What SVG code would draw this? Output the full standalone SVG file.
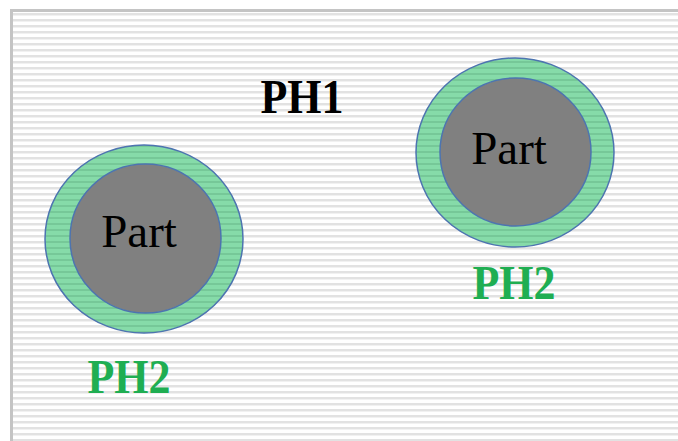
<svg xmlns="http://www.w3.org/2000/svg" width="678" height="441" viewBox="0 0 678 441">
  <defs>
    <pattern id="bgStripes" patternUnits="userSpaceOnUse" x="0" y="10" width="8" height="6">
      <rect width="8" height="6" fill="#ffffff"/>
      <rect y="3" width="8" height="2" fill="#e2e2e2"/>
      <rect y="5" width="8" height="1" fill="#f1f1f1"/>
    </pattern>
    <pattern id="ringStripes" patternUnits="userSpaceOnUse" x="0" y="10" width="8" height="6">
      <rect width="8" height="6" fill="#86dba9"/>
      <rect y="3" width="8" height="2" fill="#76c898"/>
    </pattern>
    <style>
      .ring { fill: url(#ringStripes); stroke: #4d74b0; stroke-width: 1.5; }
      .part { fill: #808080; stroke: #4d74b0; stroke-width: 1.5; }
      .partLabel { font-family: "Liberation Serif", "Times New Roman", serif; font-size: 47px; fill: #000000; text-anchor: middle; }
      .ph { font-family: "Liberation Serif", "Times New Roman", serif; font-size: 44px; font-weight: bold; text-anchor: middle; }
      .ph1 { fill: #000000; }
      .ph2 { fill: #1fae52; }
    </style>
  </defs>

  <g id="background">
    <rect x="0" y="0" width="678" height="441" fill="#ffffff"/>
    <rect x="10" y="9" width="668" height="432" fill="url(#bgStripes)"/>
    <rect x="10" y="9" width="668" height="3" fill="#c4c4c4"/>
    <rect x="10" y="9" width="3" height="432" fill="#c4c4c4"/>
  </g>

  <g id="ph1-label">
    <text class="ph ph1" transform="translate(302,113) scale(1,1.1)">PH1</text>
  </g>

  <g id="part-left">
    <ellipse class="ring" cx="144" cy="239" rx="99" ry="94"/>
    <ellipse class="part" cx="145.5" cy="238.5" rx="75.5" ry="74.5"/>
    <text class="partLabel" x="139" y="247">Part</text>
  </g>

  <g id="part-right">
    <ellipse class="ring" cx="515" cy="152.5" rx="99" ry="94.5"/>
    <ellipse class="part" cx="515.5" cy="152" rx="75.5" ry="74"/>
    <text class="partLabel" x="509" y="164">Part</text>
  </g>

  <g id="ph2-left">
    <text class="ph ph2" transform="translate(129,393) scale(1,1.08)">PH2</text>
  </g>

  <g id="ph2-right">
    <text class="ph ph2" transform="translate(514,299) scale(1,1.08)">PH2</text>
  </g>

  <g id="connectors"></g>
</svg>
